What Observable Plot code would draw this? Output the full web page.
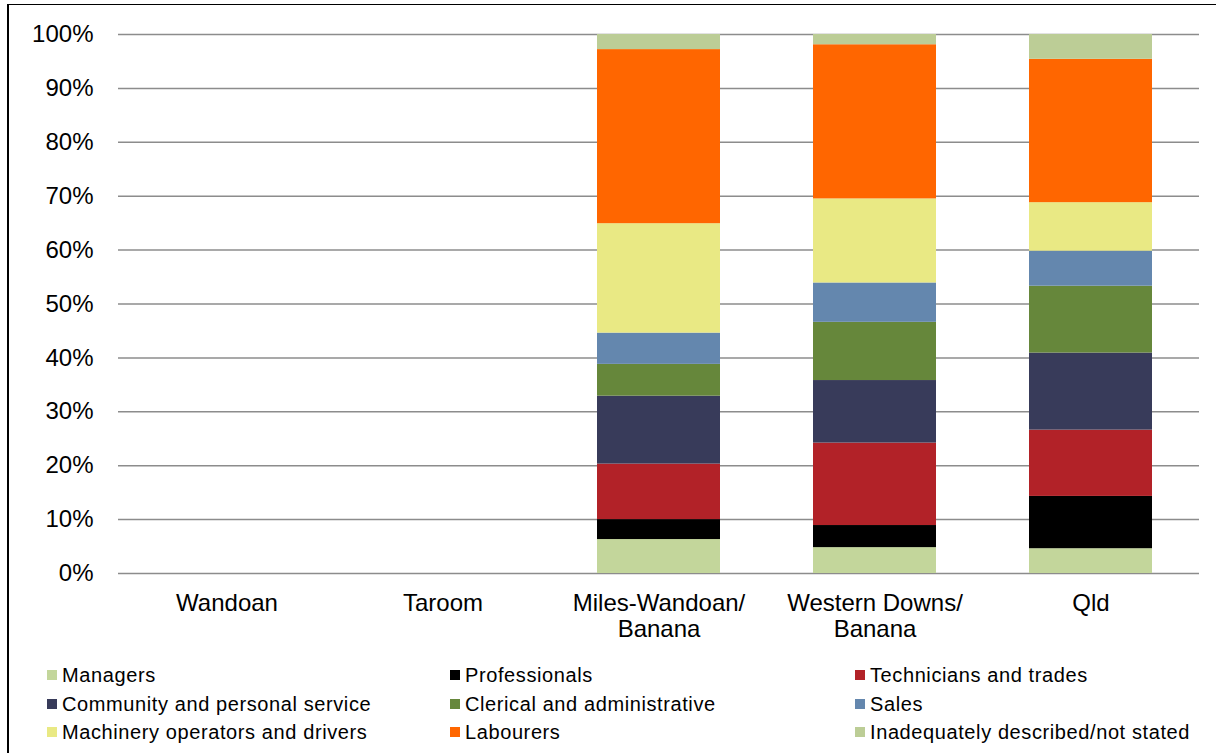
<!DOCTYPE html>
<html><head><meta charset="utf-8">
<script src="https://cdn.jsdelivr.net/npm/d3@7"></script>
<script src="https://cdn.jsdelivr.net/npm/@observablehq/plot@0.6"></script>
<style>
body{margin:0;background:#fff;font-family:"Liberation Sans",Arial,sans-serif;}
#frame{position:absolute;left:7px;top:4px;width:1300px;height:800px;border-left:2px solid #000;border-top:1.5px solid #000;pointer-events:none}
#chart{position:absolute;left:0;top:0}
#legend{position:absolute;left:47px;top:661px;display:grid;grid-template-columns:403px 405px auto;font-size:20px;letter-spacing:0.6px;line-height:28.5px;color:#000;white-space:nowrap}
.item{display:flex;align-items:center}
.sw{width:10px;height:10px;margin-right:5px;flex:none}
</style></head><body>
<div id="frame"></div><div id="chart"></div><div id="legend"></div>
<script>
const categories = ["Wandoan", "Taroom", "Miles-Wandoan/\nBanana", "Western Downs/\nBanana", "Qld"];
const occupations = ["Managers", "Professionals", "Technicians and trades",
  "Community and personal service", "Clerical and administrative", "Sales",
  "Machinery operators and drivers", "Labourers", "Inadequately described/not stated"];
const colors = ["#c3d69b", "#000000", "#b22228", "#383b5a", "#66873b", "#6487ae", "#e9e984", "#ff6600", "#bccd96"];
// values in %, one per category (null = no data)
const managers      = [null, null, 6.3, 4.8, 4.6];
const professionals = [null, null, 3.7, 4.1, 9.7];
const technicians   = [null, null, 10.3, 15.3, 12.3];
const community     = [null, null, 12.6, 11.6, 14.3];
const clerical      = [null, null, 5.9, 10.8, 12.4];
const sales         = [null, null, 5.8, 7.3, 6.5];
const machinery     = [null, null, 20.3, 15.6, 9.0];
const labourers     = [null, null, 32.3, 28.6, 26.6];
const inadequate    = [null, null, 2.8, 1.9, 4.6];
const yTicks = [0, 10, 20, 30, 40, 50, 60, 70, 80, 90, 100];

const series = [managers, professionals, technicians, community, clerical, sales, machinery, labourers, inadequate];
const rows = [];
categories.forEach((c, ci) => {
  series.forEach((s, si) => {
    if (s[ci] != null) rows.push({region: c, occupation: occupations[si], value: s[ci]});
  });
});

const chart = Plot.plot({
  width: 1216, height: 661,
  marginTop: 34, marginBottom: 88, marginLeft: 118, marginRight: 17,
  style: {fontFamily: '"Liberation Sans", Arial, sans-serif', fontSize: "24px", color: "#000", background: "transparent"},
  x: {domain: categories, paddingInner: 0.432, paddingOuter: 0.216, label: null},
  y: {domain: [0, 100], label: null},
  color: {domain: occupations, range: colors},
  marks: [
    Plot.gridY(yTicks, {stroke: "#8c8c8c", strokeOpacity: 1, strokeWidth: 1.5}),
    Plot.barY(rows, {x: "region", y: "value", fill: "occupation"}),
    Plot.axisY(yTicks, {tickSize: 0, tickPadding: 25, tickFormat: d => d + "%", fontSize: 24, label: null}),
    Plot.axisX({tickSize: 0, tickPadding: 19, lineHeight: 1.083, fontSize: 24, label: null})
  ]
});
document.getElementById("chart").appendChild(chart);

const legend = document.getElementById("legend");
occupations.forEach((o, i) => {
  const d = document.createElement("div");
  d.className = "item";
  d.innerHTML = `<span class="sw" style="background:${colors[i]}"></span><span>${o}</span>`;
  legend.appendChild(d);
});
</script>
</body></html>
